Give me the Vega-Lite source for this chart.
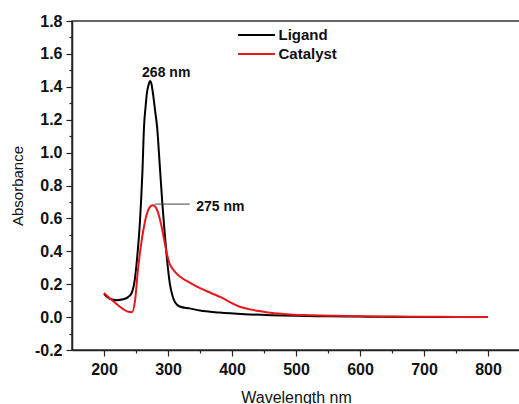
{
  "$schema": "https://vega.github.io/schema/vega-lite/v6.json",
  "width": 448,
  "height": 329,
  "autosize": {"type": "none"},
  "padding": {"left": 72, "top": 21, "right": 0, "bottom": 54},
  "background": "white",
  "config": {
    "view": {"stroke": "#333333", "strokeWidth": 1.5},
    "font": "Liberation Sans",
    "axis": {
      "grid": false,
      "domainColor": "#222222",
      "domainWidth": 1.5,
      "tickColor": "#222222",
      "tickWidth": 1.2,
      "labelColor": "#111111",
      "labelFont": "Liberation Sans",
      "labelFontWeight": "bold",
      "labelFontSize": 16,
      "titleFont": "Liberation Sans",
      "titleFontWeight": "normal",
      "titleColor": "#111111",
      "labelOverlap": false
    }
  },
  "layer": [
    {
      "data": {
        "values": [
          {"series": "Ligand", "wl": 200, "abs": 0.14},
          {"series": "Ligand", "wl": 205, "abs": 0.122},
          {"series": "Ligand", "wl": 210, "abs": 0.11},
          {"series": "Ligand", "wl": 220, "abs": 0.103},
          {"series": "Ligand", "wl": 230, "abs": 0.108},
          {"series": "Ligand", "wl": 237, "abs": 0.12},
          {"series": "Ligand", "wl": 243, "abs": 0.145},
          {"series": "Ligand", "wl": 248, "abs": 0.225},
          {"series": "Ligand", "wl": 252, "abs": 0.37},
          {"series": "Ligand", "wl": 256, "abs": 0.57},
          {"series": "Ligand", "wl": 258, "abs": 0.71},
          {"series": "Ligand", "wl": 260, "abs": 0.88},
          {"series": "Ligand", "wl": 262.5, "abs": 1.155},
          {"series": "Ligand", "wl": 265, "abs": 1.28},
          {"series": "Ligand", "wl": 267, "abs": 1.36},
          {"series": "Ligand", "wl": 269.5, "abs": 1.41},
          {"series": "Ligand", "wl": 272, "abs": 1.435},
          {"series": "Ligand", "wl": 274, "abs": 1.42},
          {"series": "Ligand", "wl": 276.5, "abs": 1.36},
          {"series": "Ligand", "wl": 280, "abs": 1.25},
          {"series": "Ligand", "wl": 283, "abs": 1.155},
          {"series": "Ligand", "wl": 287, "abs": 0.93},
          {"series": "Ligand", "wl": 291, "abs": 0.7},
          {"series": "Ligand", "wl": 294, "abs": 0.55},
          {"series": "Ligand", "wl": 298, "abs": 0.37},
          {"series": "Ligand", "wl": 303, "abs": 0.2},
          {"series": "Ligand", "wl": 307, "abs": 0.13},
          {"series": "Ligand", "wl": 311, "abs": 0.09},
          {"series": "Ligand", "wl": 319, "abs": 0.063},
          {"series": "Ligand", "wl": 334, "abs": 0.053},
          {"series": "Ligand", "wl": 350, "abs": 0.04},
          {"series": "Ligand", "wl": 380, "abs": 0.028},
          {"series": "Ligand", "wl": 420, "abs": 0.018},
          {"series": "Ligand", "wl": 460, "abs": 0.012},
          {"series": "Ligand", "wl": 500, "abs": 0.008},
          {"series": "Ligand", "wl": 550, "abs": 0.005},
          {"series": "Ligand", "wl": 600, "abs": 0.003},
          {"series": "Ligand", "wl": 700, "abs": 0.001},
          {"series": "Ligand", "wl": 800, "abs": 0.0},
          {"series": "Catalyst", "wl": 200, "abs": 0.146},
          {"series": "Catalyst", "wl": 210, "abs": 0.112},
          {"series": "Catalyst", "wl": 220, "abs": 0.078},
          {"series": "Catalyst", "wl": 230, "abs": 0.048},
          {"series": "Catalyst", "wl": 238, "abs": 0.032},
          {"series": "Catalyst", "wl": 244, "abs": 0.03},
          {"series": "Catalyst", "wl": 248.5, "abs": 0.1},
          {"series": "Catalyst", "wl": 253, "abs": 0.285},
          {"series": "Catalyst", "wl": 259, "abs": 0.47},
          {"series": "Catalyst", "wl": 264, "abs": 0.58},
          {"series": "Catalyst", "wl": 269, "abs": 0.65},
          {"series": "Catalyst", "wl": 273, "abs": 0.675},
          {"series": "Catalyst", "wl": 276, "abs": 0.68},
          {"series": "Catalyst", "wl": 279, "abs": 0.675},
          {"series": "Catalyst", "wl": 282, "abs": 0.66},
          {"series": "Catalyst", "wl": 286, "abs": 0.615},
          {"series": "Catalyst", "wl": 290, "abs": 0.55},
          {"series": "Catalyst", "wl": 294, "abs": 0.47},
          {"series": "Catalyst", "wl": 298, "abs": 0.39},
          {"series": "Catalyst", "wl": 302, "abs": 0.33},
          {"series": "Catalyst", "wl": 306, "abs": 0.3},
          {"series": "Catalyst", "wl": 312, "abs": 0.27},
          {"series": "Catalyst", "wl": 319, "abs": 0.245},
          {"series": "Catalyst", "wl": 334, "abs": 0.21},
          {"series": "Catalyst", "wl": 350, "abs": 0.176},
          {"series": "Catalyst", "wl": 368, "abs": 0.145},
          {"series": "Catalyst", "wl": 384, "abs": 0.118},
          {"series": "Catalyst", "wl": 398, "abs": 0.088},
          {"series": "Catalyst", "wl": 412, "abs": 0.063},
          {"series": "Catalyst", "wl": 428, "abs": 0.047},
          {"series": "Catalyst", "wl": 445, "abs": 0.035},
          {"series": "Catalyst", "wl": 460, "abs": 0.026},
          {"series": "Catalyst", "wl": 490, "abs": 0.016},
          {"series": "Catalyst", "wl": 522, "abs": 0.012},
          {"series": "Catalyst", "wl": 560, "abs": 0.008},
          {"series": "Catalyst", "wl": 600, "abs": 0.005},
          {"series": "Catalyst", "wl": 650, "abs": 0.003},
          {"series": "Catalyst", "wl": 700, "abs": 0.002},
          {"series": "Catalyst", "wl": 750, "abs": 0.001},
          {"series": "Catalyst", "wl": 800, "abs": 0.0}
        ]
      },
      "mark": {"type": "line", "strokeWidth": 2, "interpolate": "monotone"},
      "encoding": {
        "x": {
          "field": "wl", "type": "quantitative",
          "scale": {"domain": [150, 850], "nice": false, "zero": false},
          "axis": {
            "title": "Wavelength nm",
            "titleFontSize": 16,
            "titlePadding": 12,
            "labelOverlap": false,
            "tickCount": 200,
            "values": [200, 250, 300, 350, 400, 450, 500, 550, 600, 650, 700, 750, 800],
            "labelExpr": "datum.value % 100 == 0 ? datum.label : ''",
            "tickSize": {"condition": {"test": "datum.value % 100 == 0", "value": 6}, "value": 3},
            "labelPadding": 5
          }
        },
        "y": {
          "field": "abs", "type": "quantitative",
          "scale": {"domain": [-0.2, 1.8], "nice": false, "zero": false},
          "axis": {
            "title": "Absorbance",
            "titleFontSize": 15,
            "titlePadding": 9,
            "labelOverlap": false,
            "tickCount": 200,
            "values": [-0.2, -0.1, 0, 0.1, 0.2, 0.3, 0.4, 0.5, 0.6, 0.7, 0.8, 0.9, 1.0, 1.1, 1.2, 1.3, 1.4, 1.5, 1.6, 1.7, 1.8],
            "labelExpr": "abs(round(datum.value*10)) % 2 == 0 ? replace(format(datum.value, '.1f'), '\u2212', '-') : ''",
            "tickSize": {"condition": {"test": "abs(round(datum.value*10)) % 2 == 0", "value": 6}, "value": 3},
            "labelPadding": 4
          }
        },
        "color": {
          "field": "series", "type": "nominal",
          "scale": {"domain": ["Ligand", "Catalyst"], "range": ["#000000", "#e8161d"]},
          "legend": {
            "title": null,
            "orient": "none",
            "legendX": 174.5,
            "legendY": 4,
            "symbolType": "M-2.05,0H2.05",
            "symbolSize": 324,
            "symbolStrokeWidth": 2,
            "labelFontSize": 15,
            "labelFontWeight": "bold",
            "labelColor": "#111111",
            "labelFont": "Liberation Sans",
            "labelOffset": 12,
            "rowPadding": 1
          }
        }
      }
    },
    {
      "data": {"values": [{"wl": 279, "wl2": 334, "abs": 0.687}]},
      "mark": {"type": "rule", "color": "#444444", "strokeWidth": 1},
      "encoding": {
        "x": {"field": "wl", "type": "quantitative"},
        "x2": {"field": "wl2"},
        "y": {"field": "abs", "type": "quantitative"}
      }
    },
    {
      "data": {
        "values": [
          {"label": "268 nm", "wl": 259.5, "abs": 1.483},
          {"label": "275 nm", "wl": 344, "abs": 0.672}
        ]
      },
      "mark": {"type": "text", "fontSize": 14, "fontWeight": "bold", "color": "#111111", "align": "left", "baseline": "middle", "font": "Liberation Sans"},
      "encoding": {
        "x": {"field": "wl", "type": "quantitative"},
        "y": {"field": "abs", "type": "quantitative"},
        "text": {"field": "label"}
      }
    }
  ]
}
